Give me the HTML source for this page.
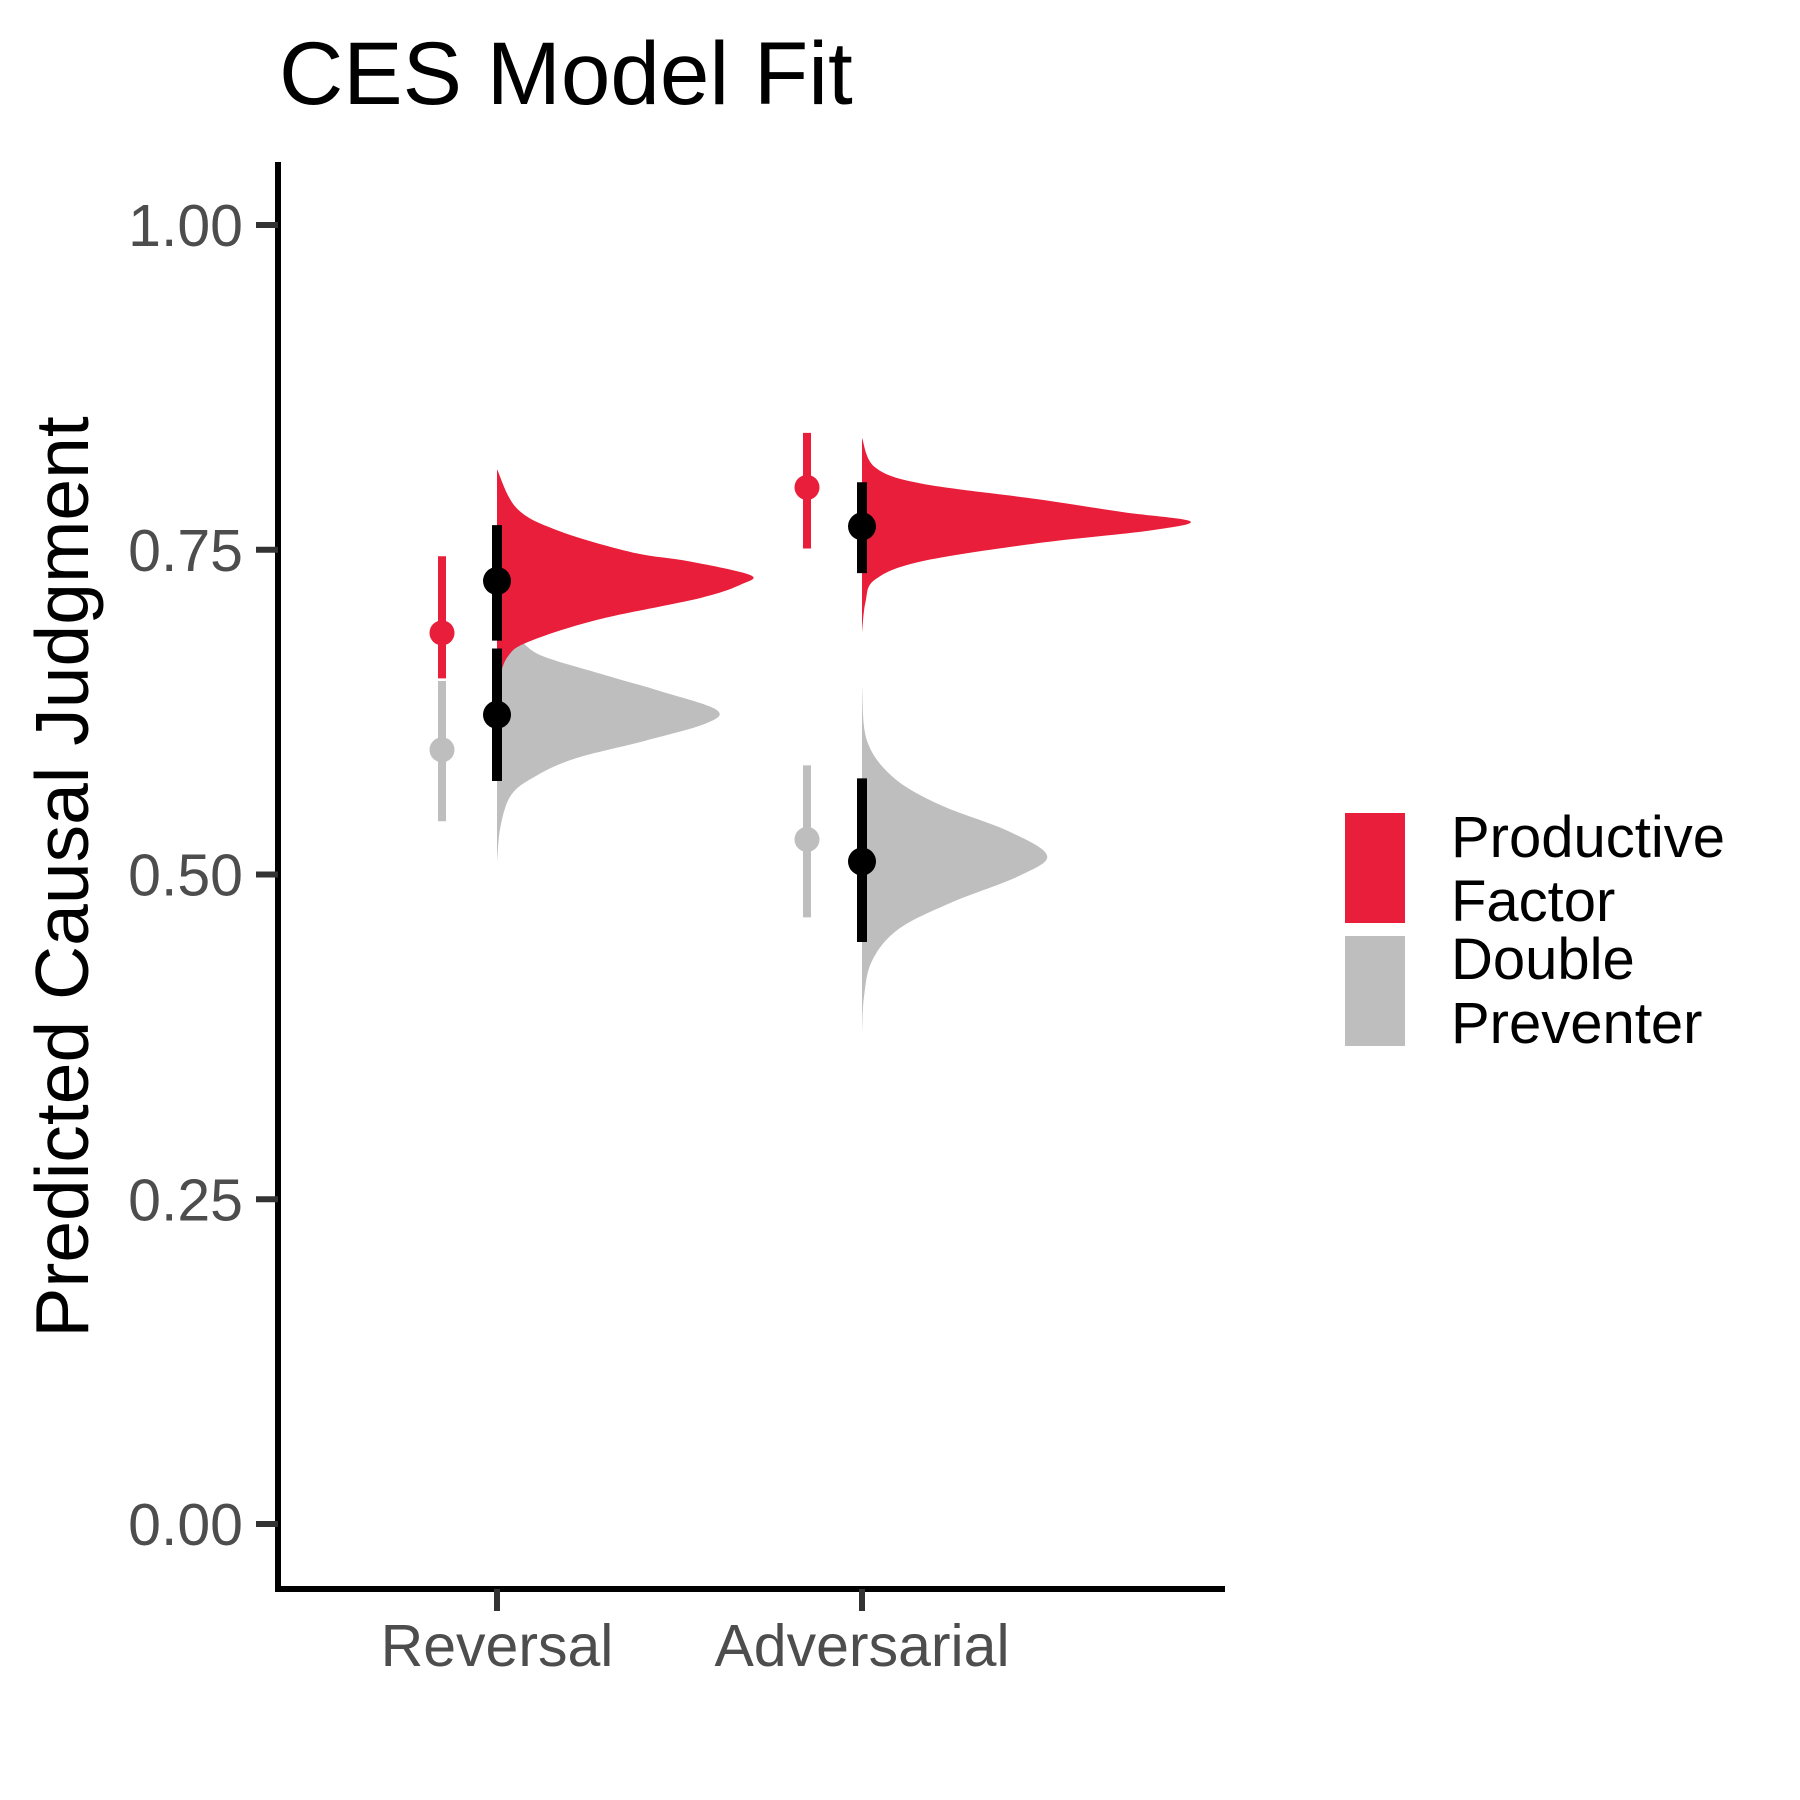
<!DOCTYPE html>
<html>
<head>
<meta charset="utf-8">
<style>
  html,body{margin:0;padding:0;background:#fff;}
  svg{display:block;}
  text{font-family:"Liberation Sans",Arial,sans-serif;}
</style>
</head>
<body>
<svg id="chart" width="1800" height="1800" viewBox="0 0 1800 1800" xmlns="http://www.w3.org/2000/svg">
  <text x="279" y="104" font-size="89" fill="#000">CES Model Fit</text>
  <text transform="translate(88,877) rotate(-90)" text-anchor="middle" font-size="75" fill="#000">Predicted Causal Judgment</text>
  <g id="plot"></g>
  <g id="yaxis"></g>
  <g id="xaxis"></g>
  <g>
    <rect x="1345" y="813" width="60" height="110" fill="#E81E3A"/>
    <rect x="1345" y="936" width="60" height="110" fill="#BEBEBE"/>
    <text font-size="58" fill="#000"><tspan x="1451" y="857">Productive</tspan><tspan x="1451" y="921">Factor</tspan></text>
    <text font-size="58" fill="#000"><tspan x="1451" y="979">Double</tspan><tspan x="1451" y="1043">Preventer</tspan></text>
  </g>
</svg>
<script>
// ---- data ----
const categories = ["Reversal", "Adversarial"];
const groups = ["Productive Factor", "Double Preventer"];
const yTicks = [0, 0.25, 0.5, 0.75, 1.0];
const yTickLabels = ["0.00", "0.25", "0.50", "0.75", "1.00"];
const observedMid = [[0.686, 0.596], [0.798, 0.527]];
const observedLow = [[0.651, 0.541], [0.751, 0.467]];
const observedHigh = [[0.745, 0.649], [0.840, 0.584]];
const modelMid = [[0.726, 0.623], [0.768, 0.510]];
const modelLow = [[0.680, 0.572], [0.732, 0.448]];
const modelHigh = [[0.769, 0.674], [0.802, 0.574]];
const densRevProdV = [0.812,0.782,0.765,0.748,0.741,0.7306,0.7236,0.713,0.696,0.679,0.668,0.651,0.645];
const densRevProdD = [0,1.96,6.0,13.5,19.3,25.3,24.5,20.4,10.0,3.1,1.1,0.2,0];
const densRevDblV = [0.679,0.668,0.654,0.641,0.627,0.6166,0.6027,0.589,0.575,0.561,0.537,0.509];
const densRevDblD = [2.5,4.6,10.6,16.4,21.9,21.0,14.7,7.7,3.7,1.4,0.35,0];
const densAdvProdV = [0.836,0.8135,0.801,0.789,0.779,0.772,0.765,0.755,0.741,0.727,0.7098,0.686];
const densAdvProdD = [0,1.3,5.9,17.5,26.1,32.8,29.0,17.5,5.9,1.3,0.35,0];
const densAdvDblV = [0.644,0.603,0.575,0.554,0.5335,0.5147,0.4992,0.478,0.4577,0.4335,0.406,0.378];
const densAdvDblD = [0,0.5,3.1,7.7,14.6,18.5,15.8,8.8,3.6,1.0,0.2,0];

// ---- scales ----
const Y0 = 1524, YPER = 1299;
function yScale(v){ return Y0 - v*YPER; }
const catX = [497, 862];
function xScale(i){ return catX[i]; }
const DENS_SCALE = 10;
const colors = ["#E81E3A", "#BEBEBE"];
const NS = "http://www.w3.org/2000/svg";
const plot = document.getElementById("plot");
const yaxis = document.getElementById("yaxis");
const xaxis = document.getElementById("xaxis");
function mk(tag, attrs, parent){
  const e = document.createElementNS(NS, tag);
  for (const k in attrs) e.setAttribute(k, attrs[k]);
  parent.appendChild(e);
  return e;
}
function smoothPath(pts){
  let d = "M" + pts[0][0] + "," + pts[0][1];
  for (let i = 0; i < pts.length - 1; i++){
    const p0 = pts[i-1] || pts[i], p1 = pts[i], p2 = pts[i+1], p3 = pts[i+2] || p2;
    const c1x = p1[0] + (p2[0]-p0[0])/6, c1y = p1[1] + (p2[1]-p0[1])/6;
    const c2x = p2[0] - (p3[0]-p1[0])/6, c2y = p2[1] - (p3[1]-p1[1])/6;
    d += " C" + c1x + "," + c1y + " " + c2x + "," + c2y + " " + p2[0] + "," + p2[1];
  }
  return d;
}

const dens = [
  [[densRevProdV, densRevProdD], [densRevDblV, densRevDblD]],
  [[densAdvProdV, densAdvProdD], [densAdvDblV, densAdvDblD]]
];
for (let c = 0; c < categories.length; c++){
  for (let g = 1; g >= 0; g--){
    const vs = dens[c][g][0], ds = dens[c][g][1];
    const x0 = xScale(c);
    const pts = vs.map((v, k) => [x0 + ds[k]*DENS_SCALE, yScale(v)]);
    let d = "M" + x0 + "," + yScale(vs[0]) + " L" + smoothPath(pts).slice(1);
    d += " L" + x0 + "," + yScale(vs[vs.length-1]) + " Z";
    const p = mk("path", {d: d, fill: colors[g]}, plot);
    
    
  }
}

for (let c = 0; c < categories.length; c++){
  for (let g = 1; g >= 0; g--){
    const x = xScale(c) - 55;
    const l = mk("line", {x1:x, x2:x, y1:yScale(observedLow[c][g]), y2:yScale(observedHigh[c][g]), stroke:colors[g], "stroke-width":8}, plot);
    
    
    const pt = mk("circle", {cx:x, cy:yScale(observedMid[c][g]), r:12.5, fill:colors[g]}, plot);
    
    
  }
}
for (let c = 0; c < categories.length; c++){
  for (let g = 1; g >= 0; g--){
    const x = xScale(c);
    const l = mk("line", {x1:x, x2:x, y1:yScale(modelLow[c][g]), y2:yScale(modelHigh[c][g]), stroke:"#000", "stroke-width":10}, plot);
    
    
    const pt = mk("circle", {cx:x, cy:yScale(modelMid[c][g]), r:14, fill:"#000"}, plot);
    
    
  }
}

const yl = mk("line", {x1:278, x2:278, y1:162, y2:1592, stroke:"#000", "stroke-width":6}, yaxis);


for (let i = 0; i < yTicks.length; i++){
  const y = yScale(yTicks[i]);
  const t = mk("line", {x1:256, x2:278, y1:y, y2:y, stroke:"#333", "stroke-width":6}, yaxis);
  
  
  const tx = mk("text", {x:243, y:y+21, "text-anchor":"end", "font-size":59, fill:"#4d4d4d"}, yaxis);
  tx.textContent = yTickLabels[i];
  
  
}
const xl = mk("line", {x1:275, x2:1225, y1:1589, y2:1589, stroke:"#000", "stroke-width":6}, xaxis);


for (let c = 0; c < categories.length; c++){
  const x = xScale(c);
  const t = mk("line", {x1:x, x2:x, y1:1589, y2:1611, stroke:"#333", "stroke-width":6}, xaxis);
  
  
  const tx = mk("text", {x:x, y:1666, "text-anchor":"middle", "font-size":59, fill:"#4d4d4d"}, xaxis);
  tx.textContent = categories[c];
  
  
}
</script>
</body>
</html>
